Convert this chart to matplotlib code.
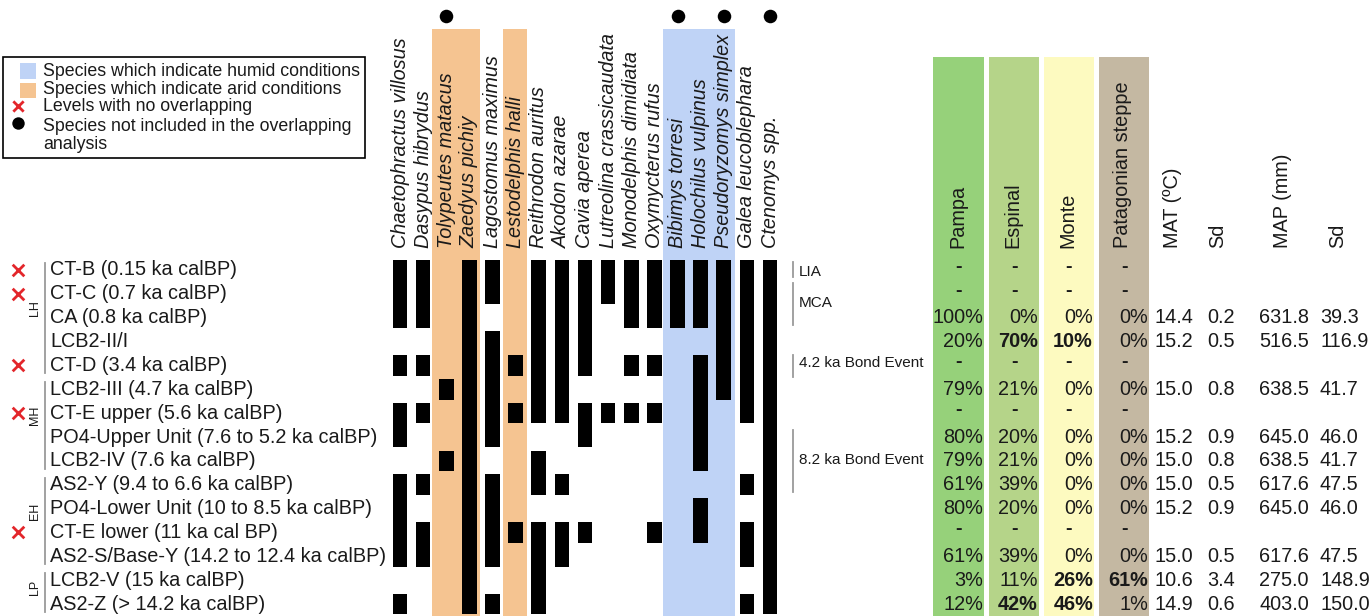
import matplotlib
matplotlib.use("Agg")
import matplotlib.pyplot as plt
from matplotlib.patches import Rectangle

plt.rcParams['font.family'] = ['Liberation Sans', 'DejaVu Sans']

# ---------------- data ----------------
species = ["Chaetophractus villosus", "Dasypus hibrydus", "Tolypeutes matacus", "Zaedyus pichiy",
           "Lagostomus maximus", "Lestodelphis halli", "Reithrodon auritus", "Akodon azarae",
           "Cavia aperea", "Lutreolina crassicaudata", "Monodelphis dimidiata", "Oxymycterus rufus",
           "Bibimys torresi", "Holochilus vulpinus", "Pseudoryzomys simplex", "Galea leucoblephara",
           "Ctenomys spp."]
levels = ["CT-B (0.15 ka calBP)", "CT-C (0.7 ka calBP)", "CA (0.8 ka calBP)", "LCB2-II/I",
          "CT-D (3.4 ka calBP)", "LCB2-III (4.7 ka calBP)", "CT-E upper (5.6 ka calBP)",
          "PO4-Upper Unit (7.6 to 5.2 ka calBP)", "LCB2-IV (7.6 ka calBP)",
          "AS2-Y (9.4 to 6.6 ka calBP)", "PO4-Lower Unit (10 to 8.5 ka calBP)",
          "CT-E lower (11 ka cal BP)", "AS2-S/Base-Y (14.2 to 12.4 ka calBP)",
          "LCB2-V (15 ka calBP)", "AS2-Z (> 14.2 ka calBP)"]
# rows (level indices) where each species is present
presence = [
    [0, 1, 2, 4, 6, 7, 9, 10, 11, 12, 14],
    [0, 1, 2, 4, 6, 9, 11, 12],
    [5, 8],
    [0, 1, 2, 3, 4, 5, 6, 7, 8, 9, 10, 11, 12, 13, 14],
    [0, 1, 3, 4, 5, 6, 7, 9, 10, 11, 12, 14],
    [4, 6, 11],
    [0, 1, 2, 3, 4, 5, 6, 8, 9, 11, 12, 13, 14],
    [0, 1, 2, 3, 4, 5, 6, 9, 11, 12],
    [0, 1, 2, 3, 4, 6, 7, 11],
    [0, 1, 6],
    [0, 1, 2, 4, 6],
    [0, 1, 2, 4, 6, 11],
    [0, 1, 2],
    [0, 1, 2, 4, 5, 6, 7, 8, 10, 11],
    [0, 1, 2, 3, 4, 5],
    [0, 1, 2, 3, 4, 5, 6, 9, 11, 12, 14],
    [0, 1, 2, 3, 4, 5, 6, 7, 8, 9, 10, 11, 12, 13, 14],
]
arid_species = ["Tolypeutes matacus", "Zaedyus pichiy", "Lestodelphis halli"]
humid_species = ["Bibimys torresi", "Holochilus vulpinus", "Pseudoryzomys simplex"]
not_included = ["Tolypeutes matacus", "Bibimys torresi", "Pseudoryzomys simplex", "Ctenomys spp."]
no_overlap = ["CT-B (0.15 ka calBP)", "CT-C (0.7 ka calBP)", "CT-D (3.4 ka calBP)",
              "CT-E upper (5.6 ka calBP)", "CT-E lower (11 ka cal BP)"]
periods = ["LH", "MH", "EH", "LP"]
period_rows = [(0, 4), (5, 8), (9, 12), (13, 14)]
events = ["LIA", "MCA", "4.2 ka Bond Event", "8.2 ka Bond Event"]

biomes = ["Pampa", "Espinal", "Monte", "Patagonian steppe"]
pampa = [None, None, 100, 20, None, 79, None, 80, 79, 61, 80, None, 61, 3, 12]
espinal = [None, None, 0, 70, None, 21, None, 20, 21, 39, 20, None, 39, 11, 42]
monte = [None, None, 0, 10, None, 0, None, 0, 0, 0, 0, None, 0, 26, 46]
patagonian = [None, None, 0, 0, None, 0, None, 0, 0, 0, 0, None, 0, 61, 1]
bold_cells = [("Espinal", 3), ("Monte", 3), ("Monte", 13), ("Patagonian steppe", 13),
              ("Espinal", 14), ("Monte", 14)]
mat = [None, None, 14.4, 15.2, None, 15.0, None, 15.2, 15.0, 15.0, 15.2, None, 15.0, 10.6, 14.9]
mat_sd = [None, None, 0.2, 0.5, None, 0.8, None, 0.9, 0.8, 0.5, 0.9, None, 0.5, 3.4, 0.6]
map_mm = [None, None, 631.8, 516.5, None, 638.5, None, 645.0, 638.5, 617.6, 645.0, None, 617.6, 275.0, 403.0]
map_sd = [None, None, 39.3, 116.9, None, 41.7, None, 46.0, 41.7, 47.5, 46.0, None, 47.5, 148.9, 150.0]
clim_headers = ["MAT (ºC)", "Sd", "MAP (mm)", "Sd"]

# ---------------- layout / style ----------------
W, H = 1372, 616
ROW0, ROWH = 270.0, 23.86          # pixel centre of first level, row pitch
COL0, COLW = 400.0, 23.125         # pixel centre of first species column, pitch


def r(py):
    """pixel y -> row units"""
    return (py - ROW0) / ROWH


YTOP, YBOT = r(0), r(H)
FS = 14.3
TXT = "#1a1a1a"
ORANGE = "#f5c491"
BLUE = "#bfd3f6"
RED = "#e3262b"
GREY = "#9a9a9a"
biome_colors = ["#96d17a", "#b5d489", "#fdfac0", "#c4b8a2"]

fig = plt.figure(figsize=(W / 100, H / 100), dpi=100)

# text / table axes: x in pixels, y in row units
ax = fig.add_axes([0, 0, 1, 1])
ax.set_xlim(0, W)
ax.set_ylim(YBOT, YTOP)
ax.axis("off")

# matrix axes: x in species index, y in row units
left_px = COL0 - 0.5 * COLW
right_px = COL0 + (len(species) - 0.5) * COLW
axm = fig.add_axes([left_px / W, 0, (right_px - left_px) / W, 1])
axm.set_xlim(-0.5, len(species) - 0.5)
axm.set_ylim(YBOT, YTOP)
axm.axis("off")
axm.patch.set_alpha(0)


def band(names, color, lo_pad=0.5, hi_pad=0.5):
    idx = [species.index(n) for n in names]
    groups = []
    for i in sorted(idx):
        if groups and i == groups[-1][-1] + 1:
            groups[-1].append(i)
        else:
            groups.append([i])
    for g in groups:
        pad_lo = 0.62 if len(g) > 1 else lo_pad
        pad_hi = 0.47 if len(g) > 1 else hi_pad
        axm.bar((g[0] - pad_lo + g[-1] + pad_hi) / 2, YBOT - r(29),
                width=(g[-1] + pad_hi) - (g[0] - pad_lo), bottom=r(29),
                color=color, zorder=0, linewidth=0)


band(arid_species, ORANGE, 0.53, 0.5)
band(humid_species, BLUE)

# presence bars (contiguous runs)
for j, rows in enumerate(presence):
    runs = []
    for k in rows:
        if runs and k == runs[-1][1] + 1:
            runs[-1][1] = k
        else:
            runs.append([k, k])
    for a, b in runs:
        axm.bar(j, (b - a + 1) - 0.14, bottom=a - 0.5 + 0.07, width=0.63,
                color="black", zorder=2, linewidth=0)

# species labels
for j, name in enumerate(species):
    axm.text(j, r(248), name, rotation=90, ha="center", va="bottom",
             fontsize=FS, style="italic", color=TXT)

# dots for species not included
axm.scatter([species.index(n) for n in not_included], [r(16)] * len(not_included),
            s=95, color="black", zorder=3, linewidths=0)

# level labels, crosses, period brackets
for i, lab in enumerate(levels):
    ax.text(50, i, lab, ha="left", va="center", fontsize=FS, color=TXT)
ax.scatter([18] * len(no_overlap), [levels.index(n) for n in no_overlap],
           marker="x", s=70, color=RED, linewidths=2, zorder=3)
for p, (a, b) in zip(periods, period_rows):
    ax.plot([45, 45], [a - 0.3, b + 0.33], color=GREY, lw=1.3)
    ax.text(35, (a + b) / 2 - 0.4 if b - a > 1 else (a + b) / 2 - 0.2, p, rotation=90,
            ha="center", va="center", fontsize=9, color=TXT)

# climatic event annotations
event_spans = [(-0.35, 0.3), (0.55, 2.3), (3.55, 4.5), (6.7, 9.3)]
event_text_y = [0.1, 1.38, 3.9, 7.95]
for ev, (a, b), ty in zip(events, event_spans, event_text_y):
    ax.plot([793, 793], [a, b], color=GREY, lw=1.3)
    ax.text(799, ty, ev, ha="left", va="center", fontsize=11, color=TXT)

# biome columns
biome_x = [(933, 984), (989, 1039), (1044, 1094), (1099, 1149)]
biome_vals = [pampa, espinal, monte, patagonian]
for name, (x0, x1), col, vals in zip(biomes, biome_x, biome_colors, biome_vals):
    ax.bar((x0 + x1) / 2, YBOT - r(57), width=x1 - x0, bottom=r(57),
           color=col, zorder=0, linewidth=0)
    ax.text((x0 + x1) / 2 - 1, r(248), name, rotation=90, ha="center", va="bottom",
            fontsize=FS, color=TXT)
    for i, v in enumerate(vals):
        if v is None:
            ax.text((x0 + x1) / 2, i - 0.15, "-", ha="center", va="center",
                    fontsize=FS, color=TXT, fontweight="bold")
        else:
            bold = (name, i) in bold_cells
            ax.text(x1 - 1, i, f"{v}%", ha="right", va="center", fontsize=FS,
                    color=TXT, fontweight="bold" if bold else "normal")

# climate columns
clim_x = [1155, 1207, 1259, 1320]
clim_head_x = [1172, 1218, 1282, 1338]
for hx, hdr in zip(clim_head_x, clim_headers):
    ax.text(hx, r(248), hdr, rotation=90, ha="center", va="bottom", fontsize=FS, color=TXT)
for cx, vals in zip(clim_x, [mat, mat_sd, map_mm, map_sd]):
    for i, v in enumerate(vals):
        if v is not None:
            ax.text(cx, i, f"{v:.1f}", ha="left", va="center", fontsize=FS, color=TXT)

# legend box
ax.add_patch(Rectangle((3, r(158)), 362, r(57) - r(158), fill=False,
                       edgecolor="black", lw=1.2))
ax.add_patch(Rectangle((20, r(79)), 16, r(63) - r(79), color=BLUE, lw=0))
ax.add_patch(Rectangle((20, r(98)), 16, r(83) - r(98), color=ORANGE, lw=0))
ax.scatter([18], [r(106)], marker="x", s=55, color=RED, linewidths=2)
ax.scatter([18], [r(123)], s=80, color="black", linewidths=0)
leg_txt = ["Species which indicate humid conditions", "Species which indicate arid conditions",
           "Levels with no overlapping", "Species not included in the overlapping", "analysis"]
for t, py in zip(leg_txt, [72, 90, 107, 127, 145]):
    ax.text(43, r(py), t, ha="left", va="center", fontsize=12.8, color=TXT)

fig.savefig("out.png", dpi=100)
